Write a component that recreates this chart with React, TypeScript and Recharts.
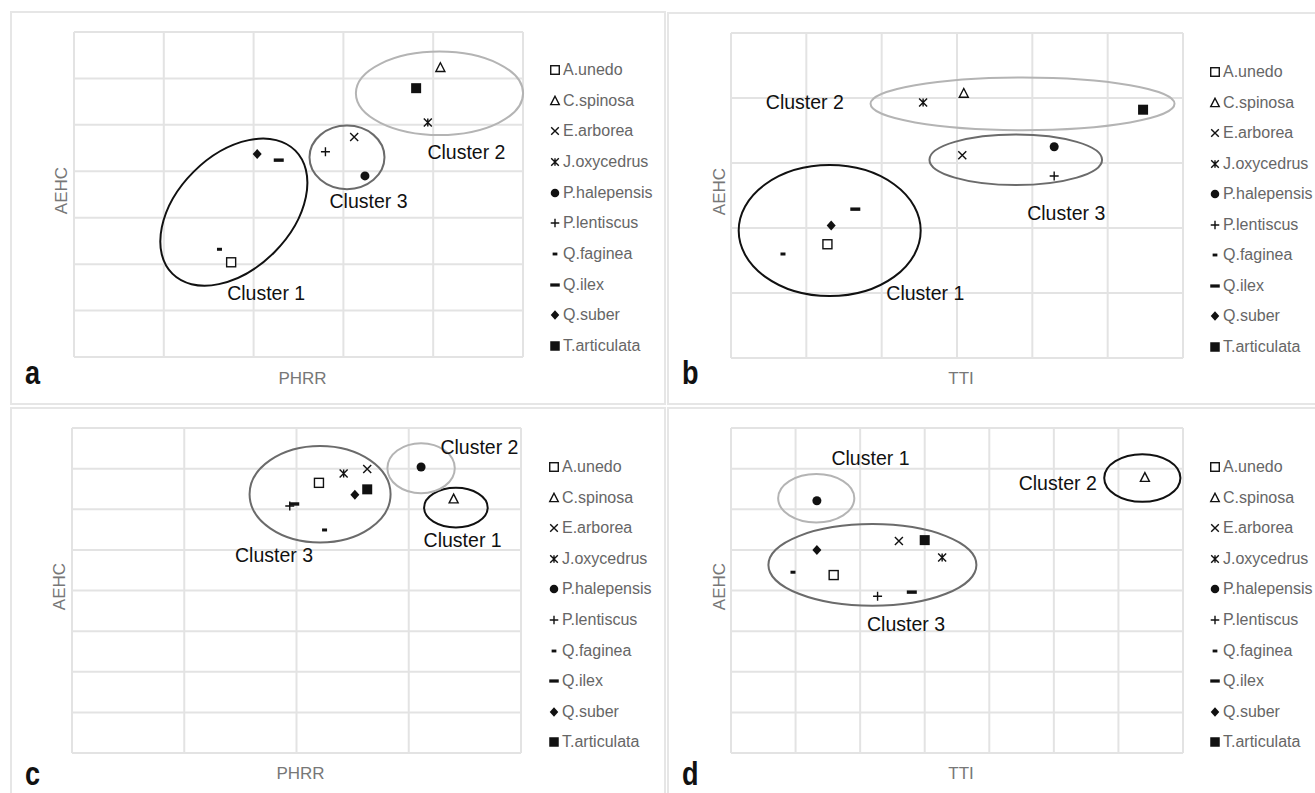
import React from "react";
import {
  ScatterChart,
  Scatter,
  XAxis,
  YAxis,
  ReferenceLine,
  ReferenceDot,
} from "recharts";

const species = [
  "A.unedo",
  "C.spinosa",
  "E.arborea",
  "J.oxycedrus",
  "P.halepensis",
  "P.lentiscus",
  "Q.faginea",
  "Q.ilex",
  "Q.suber",
  "T.articulata",
];
const markerKinds = [
  "openSquare",
  "openTriangle",
  "cross",
  "star",
  "circle",
  "plus",
  "shortDash",
  "longDash",
  "diamond",
  "square",
];

// panel a: PHRR vs AEHC
const phrrA = [1.75, 4.08, 3.12, 3.94, 3.24, 2.8, 1.62, 2.28, 2.04, 3.81];
const aehcA = [2.04, 6.23, 4.74, 5.05, 3.9, 4.42, 2.32, 4.24, 4.37, 5.79];
// panel b: TTI vs AEHC
const ttiB = [1.28, 3.09, 3.07, 2.55, 4.29, 4.29, 0.69, 1.65, 1.33, 5.47];
const aehcB = [1.75, 4.07, 3.12, 3.93, 3.25, 2.8, 1.6, 2.29, 2.04, 3.82];
// panel c: PHRR vs AEHC
const phrrC = [2.2, 3.4, 2.63, 2.42, 3.11, 1.94, 2.25, 1.98, 2.52, 2.63];
const aehcC = [6.65, 6.25, 6.99, 6.88, 7.04, 6.08, 5.49, 6.13, 6.36, 6.49];
// panel d: TTI vs AEHC
const ttiD = [1.59, 6.41, 2.6, 3.27, 1.33, 2.27, 0.96, 2.8, 1.33, 3.0];
const aehcD = [4.38, 6.78, 5.22, 4.81, 6.21, 3.86, 4.45, 3.96, 5.0, 5.24];

const clusterNames = ["Cluster 1", "Cluster 2", "Cluster 3"];
// ellipse centres and label anchors, in axis units
const ringXA = [1.78, 4.07, 3.04];
const ringYA = [3.12, 5.68, 4.3];
const labelXA = [2.14, 4.37, 3.28];
const labelYA = [1.38, 4.42, 3.37];
const ringXB = [1.31, 3.87, 3.78];
const ringYB = [1.96, 3.91, 3.05];
const labelXB = [2.58, 0.98, 4.45];
const labelYB = [1.0, 3.94, 2.23];
const ringXC = [3.42, 3.11, 2.21];
const ringYC = [6.04, 7.01, 6.37];
const labelXC = [3.48, 3.63, 1.8];
const labelYC = [5.24, 7.54, 4.87];
const ringXD = [1.32, 6.37, 2.19];
const ringYD = [6.27, 6.77, 4.63];
const labelXD = [2.16, 5.06, 2.71];
const labelYD = [7.25, 6.65, 3.17];

const BLACK = "#111";
const LIGHT = "#b4b4b4";
const DARK = "#6b6b6b";
const GRID = "#e3e3e3";
const FONT = "'Liberation Sans', Arial, Helvetica, sans-serif";

function Marker({ kind, cx, cy, s = 1 }: any) {
  const sw = 1.4;
  if (kind === "openSquare") {
    const h = 4.5 * s;
    return <rect x={cx - h} y={cy - h} width={2 * h} height={2 * h} fill="#fff" stroke={BLACK} strokeWidth={sw} />;
  }
  if (kind === "openTriangle") {
    return (
      <path
        d={`M${cx},${cy - 5 * s}L${cx + 4.5 * s},${cy + 3.8 * s}L${cx - 4.5 * s},${cy + 3.8 * s}Z`}
        fill="none"
        stroke={BLACK}
        strokeWidth={sw}
      />
    );
  }
  if (kind === "cross" || kind === "star") {
    const d = 4 * s;
    let p = `M${cx - d},${cy - d}L${cx + d},${cy + d}M${cx - d},${cy + d}L${cx + d},${cy - d}`;
    if (kind === "star") p += `M${cx},${cy - d}L${cx},${cy + d}`;
    return <path d={p} fill="none" stroke={BLACK} strokeWidth={sw} />;
  }
  if (kind === "circle") return <circle cx={cx} cy={cy} r={4.5 * s} fill={BLACK} />;
  if (kind === "plus") {
    const d = 4.5 * s;
    return <path d={`M${cx - d},${cy}L${cx + d},${cy}M${cx},${cy - d}L${cx},${cy + d}`} stroke={BLACK} strokeWidth={sw} />;
  }
  if (kind === "shortDash") return <rect x={cx - 2.5 * s} y={cy - 1.5 * s} width={5 * s} height={3 * s} fill={BLACK} />;
  if (kind === "longDash") return <rect x={cx - 5 * s} y={cy - 1.7 * s} width={10 * s} height={3.4 * s} fill={BLACK} />;
  if (kind === "diamond") {
    return (
      <path
        d={`M${cx},${cy - 5 * s}L${cx + 4.5 * s},${cy}L${cx},${cy + 5 * s}L${cx - 4.5 * s},${cy}Z`}
        fill={BLACK}
      />
    );
  }
  const h = 5 * s;
  return <rect x={cx - h} y={cy - h} width={2 * h} height={2 * h} fill={BLACK} />;
}

const panels = [
  {
    letter: "a",
    xLabel: "PHRR",
    xs: phrrA,
    ys: aehcA,
    xMax: 5,
    yMax: 7,
    box: { left: 10, top: 11, width: 656, height: 394 },
    size: { w: 652, h: 390 },
    margin: { top: 19, right: 141, bottom: 4, left: 36 },
    yAxisWidth: 26,
    xAxisHeight: 42,
    legend: { x: 555, y: 70, step: 30.7 },
    letterTop: 356,
    ringX: ringXA,
    ringY: ringYA,
    labelX: labelXA,
    labelY: labelYA,
    rings: [
      { rx: 87, ry: 57, angle: -45, color: BLACK },
      { rx: 83.6, ry: 41.7, angle: 0, color: LIGHT },
      { rx: 37.5, ry: 31.8, angle: 0, color: DARK },
    ],
  },
  {
    letter: "b",
    xLabel: "TTI",
    xs: ttiB,
    ys: aehcB,
    xMax: 6,
    yMax: 5,
    box: { left: 667, top: 12, width: 663, height: 393 },
    size: { w: 659, h: 389 },
    margin: { top: 19, right: 145, bottom: 5, left: 38 },
    yAxisWidth: 24,
    xAxisHeight: 40,
    legend: { x: 1215, y: 72, step: 30.5 },
    letterTop: 356,
    ringX: ringXB,
    ringY: ringYB,
    labelX: labelXB,
    labelY: labelYB,
    rings: [
      { rx: 91, ry: 65.5, angle: 0, color: BLACK },
      { rx: 152, ry: 26.3, angle: 0, color: LIGHT },
      { rx: 86.3, ry: 25.3, angle: 0, color: DARK },
    ],
  },
  {
    letter: "c",
    xLabel: "PHRR",
    xs: phrrC,
    ys: aehcC,
    xMax: 4,
    yMax: 8,
    box: { left: 10, top: 407, width: 656, height: 393 },
    size: { w: 652, h: 389 },
    margin: { top: 19, right: 143, bottom: 5, left: 34 },
    yAxisWidth: 26,
    xAxisHeight: 40,
    legend: { x: 554, y: 467, step: 30.6 },
    letterTop: 757,
    ringX: ringXC,
    ringY: ringYC,
    labelX: labelXC,
    labelY: labelYC,
    rings: [
      { rx: 31.8, ry: 19.8, angle: 0, color: BLACK },
      { rx: 33.7, ry: 25, angle: 0, color: LIGHT },
      { rx: 70.5, ry: 48.3, angle: 0, color: DARK },
    ],
  },
  {
    letter: "d",
    xLabel: "TTI",
    xs: ttiD,
    ys: aehcD,
    xMax: 7,
    yMax: 8,
    box: { left: 667, top: 407, width: 663, height: 393 },
    size: { w: 659, h: 389 },
    margin: { top: 19, right: 145, bottom: 5, left: 38 },
    yAxisWidth: 24,
    xAxisHeight: 40,
    legend: { x: 1215, y: 467, step: 30.6 },
    letterTop: 757,
    ringX: ringXD,
    ringY: ringYD,
    labelX: labelXD,
    labelY: labelYD,
    rings: [
      { rx: 38.1, ry: 24.2, angle: 0, color: LIGHT },
      { rx: 38.1, ry: 23.8, angle: 0, color: BLACK },
      { rx: 104, ry: 40.8, angle: 0, color: DARK },
    ],
  },
];

const range = (n: number) => Array.from({ length: n + 1 }, (_, i) => i);

function Panel({ p }: any) {
  return (
    <div
      style={{
        position: "absolute",
        left: p.box.left,
        top: p.box.top,
        width: p.box.width,
        height: p.box.height,
        boxSizing: "border-box",
        border: "2px solid #e6e6e6",
      }}
    >
      <ScatterChart width={p.size.w} height={p.size.h} margin={p.margin}>
        <XAxis
          type="number"
          dataKey="x"
          domain={[0, p.xMax]}
          ticks={range(p.xMax)}
          tick={false}
          tickLine={false}
          axisLine={false}
          height={p.xAxisHeight}
          label={{ value: p.xLabel, position: "center", fill: "#777", fontSize: 17, fontFamily: FONT, dx: 4 }}
        />
        <YAxis
          type="number"
          dataKey="y"
          domain={[0, p.yMax]}
          ticks={range(p.yMax)}
          tick={false}
          tickLine={false}
          axisLine={false}
          width={p.yAxisWidth}
          label={{ value: "AEHC", position: "center", angle: -90, fill: "#777", fontSize: 17, fontFamily: FONT, dy: -4 }}
        />
        {range(p.xMax).map((v) => (
          <ReferenceLine key={`gx-${v}`} x={v} stroke={GRID} strokeWidth={2} ifOverflow="visible" />
        ))}
        {range(p.yMax).map((v) => (
          <ReferenceLine key={`gy-${v}`} y={v} stroke={GRID} strokeWidth={2} ifOverflow="visible" />
        ))}
        {clusterNames.map((c, i) => (
          <ReferenceDot
            key={`ring-${c}`}
            x={p.ringX[i]}
            y={p.ringY[i]}
            ifOverflow="visible"
            shape={(s: any) => (
              <ellipse
                cx={s.cx}
                cy={s.cy}
                rx={p.rings[i].rx}
                ry={p.rings[i].ry}
                transform={`rotate(${p.rings[i].angle} ${s.cx} ${s.cy})`}
                fill="none"
                stroke={p.rings[i].color}
                strokeWidth={2}
              />
            )}
          />
        ))}
        {species.map((name, i) => (
          <Scatter
            key={name}
            name={name}
            data={[{ x: p.xs[i], y: p.ys[i] }]}
            isAnimationActive={false}
            shape={(s: any) => <Marker kind={markerKinds[i]} cx={s.cx} cy={s.cy} />}
          />
        ))}
        {clusterNames.map((c, i) => (
          <ReferenceDot
            key={`label-${c}`}
            x={p.labelX[i]}
            y={p.labelY[i]}
            ifOverflow="visible"
            shape={(s: any) => (
              <text
                x={s.cx}
                y={s.cy}
                textAnchor="middle"
                dominantBaseline="central"
                fontSize={19.5}
                fontFamily={FONT}
                fill={BLACK}
              >
                {c}
              </text>
            )}
          />
        ))}
      </ScatterChart>
    </div>
  );
}

function LegendBlock({ p }: any) {
  return (
    <div
      style={{
        position: "absolute",
        left: p.legend.x - 6,
        top: p.legend.y - p.legend.step / 2,
        fontFamily: FONT,
        fontSize: 16,
        color: "#666",
      }}
    >
      {species.map((name, i) => (
        <div
          key={name}
          style={{ height: p.legend.step, display: "flex", alignItems: "center", whiteSpace: "nowrap" }}
        >
          <svg width={12} height={12} style={{ display: "block" }}>
            <Marker kind={markerKinds[i]} cx={6} cy={6} s={0.95} />
          </svg>
          <span style={{ marginLeft: 2 }}>{name}</span>
        </div>
      ))}
    </div>
  );
}

export default function App() {
  return (
    <div
      style={{
        position: "absolute",
        left: 0,
        top: 0,
        width: 1315,
        height: 793,
        overflow: "hidden",
        background: "#fff",
      }}
    >
      {panels.map((p) => (
        <React.Fragment key={p.letter}>
          <Panel p={p} />
          <LegendBlock p={p} />
          <div
            style={{
              position: "absolute",
              left: p.box.left + 15,
              top: p.letterTop,
              fontFamily: FONT,
              fontWeight: "bold",
              fontSize: 33,
              lineHeight: "33px",
              transform: "scaleX(0.82)",
              transformOrigin: "left",
              color: "#111",
            }}
          >
            {p.letter}
          </div>
        </React.Fragment>
      ))}
    </div>
  );
}
